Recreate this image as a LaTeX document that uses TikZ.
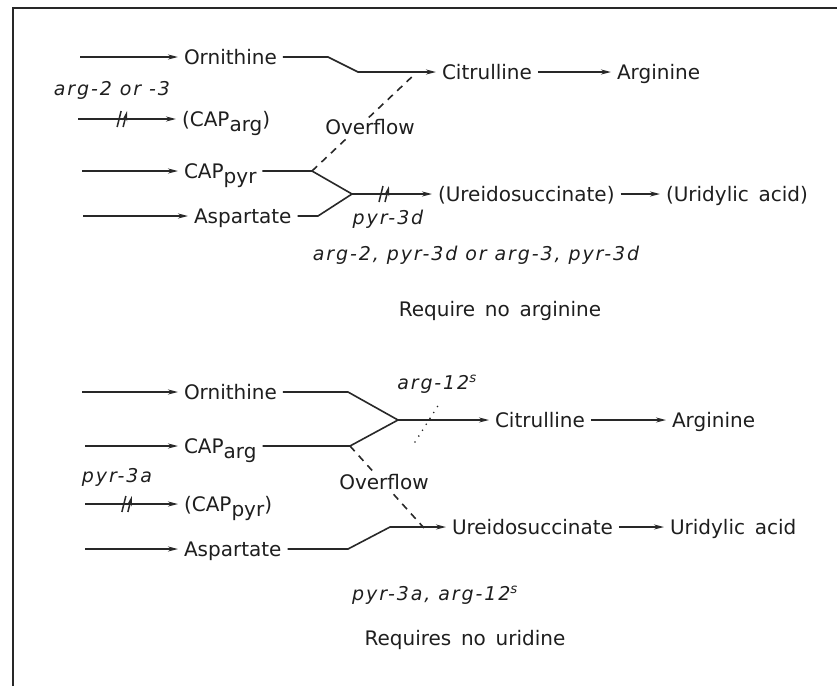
\documentclass[tikz,border=0pt]{standalone}
\usepackage{fontspec}
\setmainfont{DejaVu Sans}
\newfontfamily\genefont{DejaVu Sans}[LetterSpace=10]
\usetikzlibrary{arrows.meta,decorations.markings,positioning}
\newcommand{\lowtxt}[1]{\raisebox{-0.5ex}{#1}}

\begin{document}
\begin{tikzpicture}[x=1pt,y=-1pt,
  txt/.style={anchor=west,inner sep=2pt,outer sep=4pt,text height=18pt,text depth=3pt,text=clt,font=\fontsize{20}{22}\selectfont},
  note/.style={inner sep=1pt,text=clt,font=\fontsize{20}{22}\selectfont},
  gene/.style={inner sep=1pt,text=clt,font=\genefont\fontsize{19}{21}\selectfont\itshape},
  link/.style={draw=cl,line width=1.6pt},
  flow/.style={link,-{Stealth[length=10pt,width=5pt]}},
  ovf/.style={link,dash pattern=on 7pt off 6pt},
  cut/.style={decoration={markings,mark=at position #1 with {\draw[cl,line width=1.5pt] (-5pt,-8pt) -- (-1pt,8pt) (1pt,-8pt) -- (5pt,8pt);}},postaction=decorate}]
%
\useasboundingbox (0,0) rectangle (837,686);
%
\definecolor{cl}{RGB}{40,40,40}
\definecolor{clt}{RGB}{30,30,30}
%
\draw[cl,line width=2pt] (13,686) -- (13,8) -- (837,8);
%
% no arginine needed
\coordinate (a1) at (80,57);
\coordinate (a2) at (78,119);
\coordinate (a3) at (82,171);
\coordinate (a4) at (83,216);
\node[txt] (orn1) at (178,57) {Ornithine};
\node[txt] (capa1) at (176,119) {(CAP\lowtxt{arg})};
\node[txt] (capp1) at (178,171) {CAP\lowtxt{pyr}};
\node[txt] (asp1) at (188,216) {Aspartate};
\node[txt] (cit1) at (436,72) {Citrulline};
\node[txt] (arg1) at (611,72) {Arginine};
\node[txt] (ure1) at (432,194) {(Ureidosuccinate)};
\node[txt] (uri1) at (660,194) {(Uridylic\, acid)};
\coordinate (j1a) at (328,57);
\coordinate (j1b) at (358,72);
\coordinate (j1c) at (416,73);
\coordinate (j2a) at (312,171);
\coordinate (j2b) at (352,194);
\coordinate (j3a) at (318,216);
%
\draw[flow] (a1) -- (orn1);
\draw[flow,cut=0.45] (a2) -- (capa1);
\draw[flow] (a3) -- (capp1);
\draw[flow] (a4) -- (asp1);
\draw[flow] (orn1.east) -- (j1a) -- (j1b) -- (cit1);
\draw[flow] (cit1) -- (arg1);
\draw[link] (capp1.east) -- (j2a) -- (j2b);
\draw[link] (asp1.east) -- (j3a) -- (j2b);
\draw[flow,cut=0.4] (j2b) -- (ure1);
\draw[flow] (ure1) -- (uri1);
\draw[ovf] (j2a) -- (j1c);
\node[note,fill=white] (ovl1) at (370,127) {Overflow};
%
\node[gene] (g1) at (112,90) {arg-2 or -3};
\node[gene] (g2) at (388,219) {pyr-3d};
\node[gene] (g3) at (476,255) {arg-2, pyr-3d or arg-3, pyr-3d};
\node[note] (r1) at (500,311) {Require\, no\, arginine};
%
% no uridine needed
\coordinate (b1) at (82,392);
\coordinate (b2) at (85,446);
\coordinate (b3) at (85,504);
\coordinate (b4) at (85,549);
\node[txt] (orn2) at (178,392) {Ornithine};
\node[txt] (capa2) at (178,446) {CAP\lowtxt{arg}};
\node[txt] (capp2) at (178,504) {(CAP\lowtxt{pyr})};
\node[txt] (asp2) at (178,549) {Aspartate};
\node[txt] (cit2) at (489,420) {Citrulline};
\node[txt] (arg2) at (666,420) {Arginine};
\node[txt] (ure2) at (446,527) {Ureidosuccinate};
\node[txt] (uri2) at (664,527) {Uridylic\, acid};
\coordinate (k1a) at (348,392);
\coordinate (k1b) at (398,420);
\coordinate (k2a) at (350,446);
\coordinate (k3a) at (348,549);
\coordinate (k3b) at (390,527);
\coordinate (k3c) at (424,528);
\coordinate (k4a) at (415,442);
\coordinate (k4b) at (441,401);
%
\draw[flow] (b1) -- (orn2);
\draw[flow] (b2) -- (capa2);
\draw[flow,cut=0.45] (b3) -- (capp2);
\draw[flow] (b4) -- (asp2);
\draw[flow] (orn2.east) -- (k1a) -- (k1b) -- (cit2);
\draw[link] (capa2.east) -- (k2a) -- (k1b);
\draw[flow] (cit2) -- (arg2);
\draw[flow] (asp2.east) -- (k3a) -- (k3b) -- (ure2);
\draw[flow] (ure2) -- (uri2);
\draw[ovf] (k2a) -- (k3c);
\node[note,fill=white] (ovl2) at (384,482) {Overflow};
\draw[cl,line width=1.8pt,line cap=round,dash pattern=on 0pt off 7pt] (k4a) -- (k4b);
%
\node[gene] (g4) at (437,384) {arg-12\textsuperscript{s}};
\node[gene] (g5) at (117,477) {pyr-3a};
\node[gene] (g6) at (435,595) {pyr-3a, arg-12\textsuperscript{s}};
\node[note] (r2) at (465,640) {Requires\, no\, uridine};
%
\end{tikzpicture}
\end{document}
